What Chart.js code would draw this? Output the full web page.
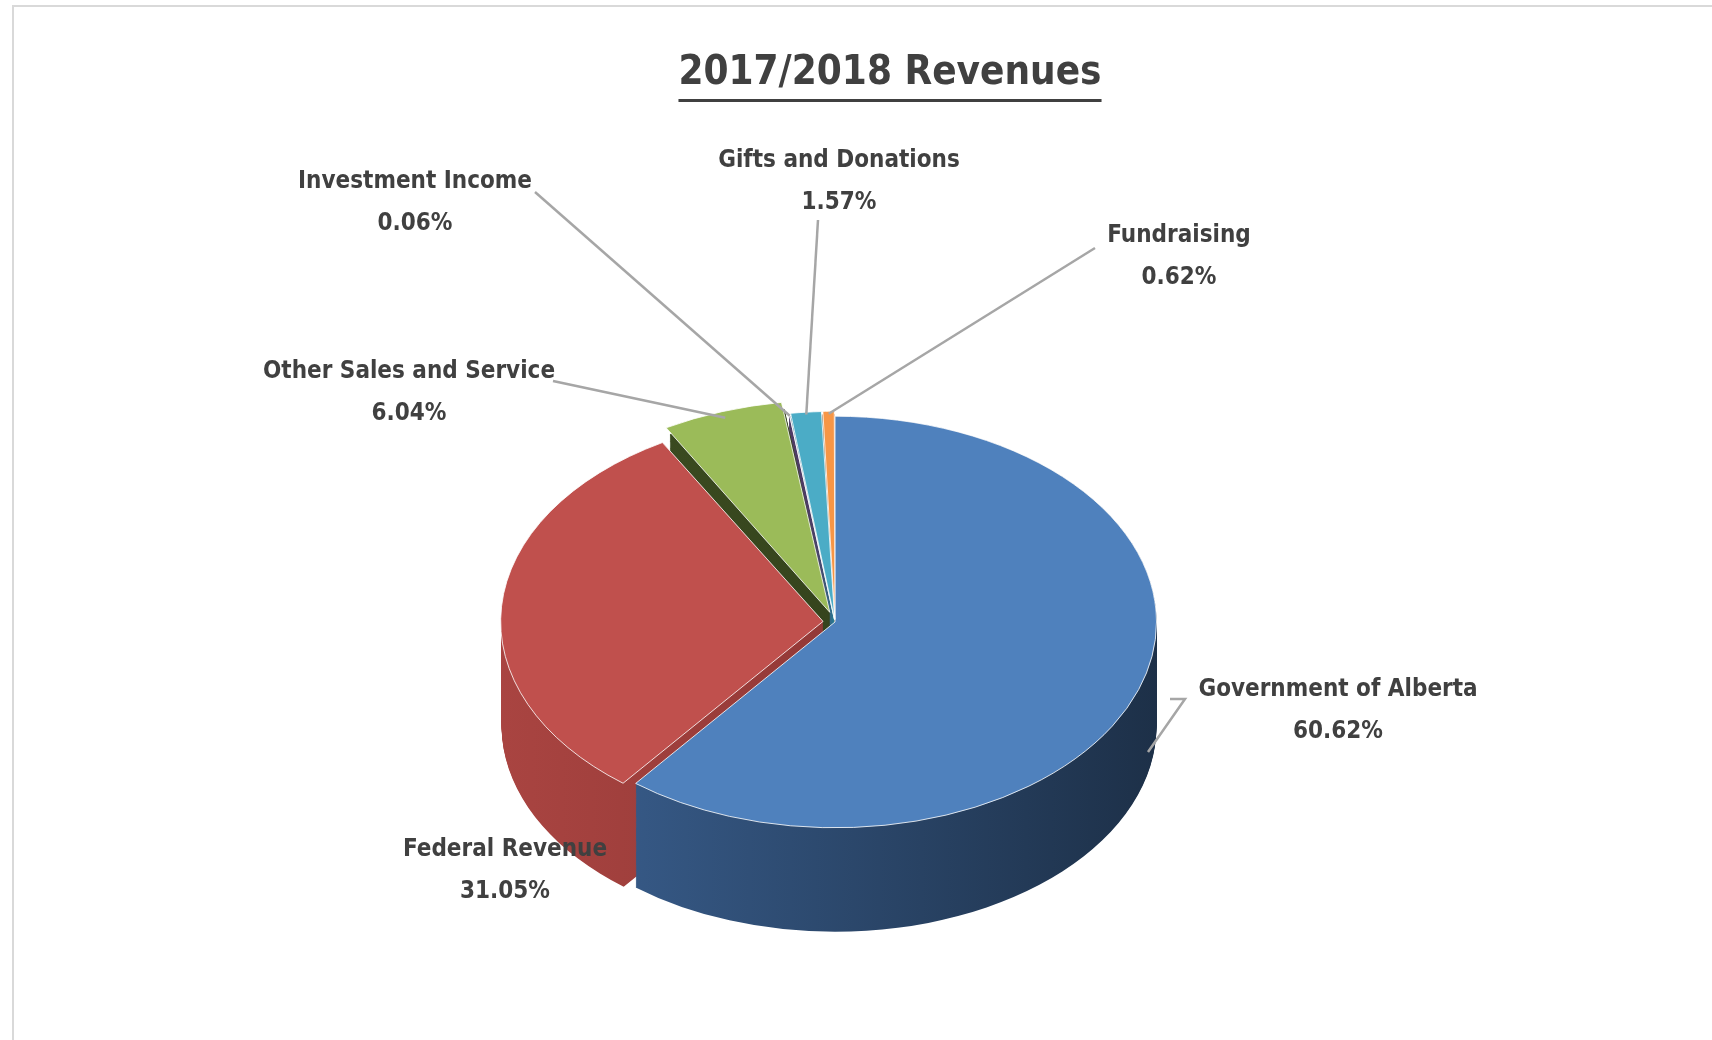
<!DOCTYPE html>
<html>
<head>
<meta charset="utf-8">
<script src="https://cdn.jsdelivr.net/npm/chart.js@4.4.0/dist/chart.umd.min.js"></script>
<style>
  html, body { margin: 0; padding: 0; background: #fff; }
  #wrap { position: absolute; left: 12px; top: 5px; width: 1700px; height: 1035px; border: 2px solid #d9d9d9; border-right: none; border-bottom: none; box-sizing: border-box; }
  canvas { position: absolute; left: 0; top: 0; }
</style>
</head>
<body>
<canvas id="revChart" width="1712" height="1040"></canvas>
<script>
const categories = ['Government of Alberta', 'Federal Revenue', 'Other Sales and Service', 'Investment Income', 'Gifts and Donations', 'Fundraising'];
const shares = [60.62, 31.05, 6.04, 0.06, 1.57, 0.62];
const topColors = ['#4f81bd', '#c0504d', '#9bbb59', '#8064a2', '#4bacc6', '#f79646'];
const sideColors = [['#3b6192', '#1d3048'], ['#a94441', '#7e2e2c'], ['#3e4f22', '#2d3a18'], ['#5a4574', '#3f3052'], ['#2f8ea8', '#1f6a80'], ['#d9782e', '#b05f20']];
// Chart.js v4 draws arcs shifted by offset / 4
const sliceOffsets = [0, 48, 64, 16, 16, 16];

// where each label sits (text centre) and where its leader line starts
const labelLayout = [
    { x: 1338, y: 690, lx: 1185, ly: 699, ax: 1148, ay: 752 },
    { x: 505, y: 850, lx: null },
    { x: 409, y: 372, lx: 553, ly: 381 },
    { x: 415, y: 182, lx: 535, ly: 192 },
    { x: 839, y: 161, lx: 818, ly: 220 },
    { x: 1179, y: 236, lx: 1095, ly: 248 }
];

const SQUASH = 0.64;
const DEPTH = 104;

function arcGeom(arc, i) {
    const p = arc.getProps(['x', 'y', 'startAngle', 'endAngle', 'outerRadius'], true);
    const mid = (p.startAngle + p.endAngle) / 2;
    const off = sliceOffsets[i] / 4;
    return { x: p.x + off * Math.cos(mid), y: p.y + off * Math.sin(mid), s: p.startAngle, e: p.endAngle, r: p.outerRadius, mid };
}

const pie3d = {
    id: 'pie3d',
    beforeDatasetsDraw(chart) {
        const ctx = chart.ctx;
        const ca = chart.chartArea;
        const cy = (ca.top + ca.bottom) / 2;
        ctx.save();
        ctx.translate(0, cy);
        ctx.scale(1, SQUASH);
        ctx.translate(0, -cy);
        const meta = chart.getDatasetMeta(0);
        const d = DEPTH / SQUASH;
        // draw extrusion, back to front
        for (let step = d; step > 0; step -= 1.5) {
            meta.data.forEach((arc, i) => {
                const p = arcGeom(arc, i);
                const g = ctx.createLinearGradient(p.x - p.r, 0, p.x + p.r, 0);
                g.addColorStop(0, sideColors[i][0]);
                g.addColorStop(1, sideColors[i][1]);
                ctx.fillStyle = g;
                ctx.beginPath();
                ctx.moveTo(p.x, p.y + step);
                ctx.arc(p.x, p.y + step, p.r, p.s, p.e);
                ctx.closePath();
                ctx.fill();
            });
        }
    },
    afterDatasetsDraw(chart) {
        const ctx = chart.ctx;
        ctx.restore();
        const ca = chart.chartArea;
        const cy = (ca.top + ca.bottom) / 2;
        const meta = chart.getDatasetMeta(0);

        // title
        ctx.save();
        ctx.fillStyle = '#404040';
        ctx.font = 'bold 40px "DejaVu Sans Condensed"';
        ctx.textAlign = 'center';
        ctx.textBaseline = 'middle';
        const title = '2017/2018 Revenues';
        ctx.fillText(title, 890, 74);
        const tw = ctx.measureText(title).width;
        ctx.fillRect(890 - tw / 2, 99, tw, 3);

        // labels and leader lines
        ctx.font = 'bold 24px "DejaVu Sans Condensed"';
        meta.data.forEach((arc, i) => {
            const p = arcGeom(arc, i);
            const L = labelLayout[i];
            if (L.lx !== null) {
                let ax = p.x + p.r * Math.cos(p.mid);
                let ay = cy + (p.y - cy + p.r * Math.sin(p.mid)) * SQUASH;
                if (L.ax) { ax = L.ax; ay = L.ay; }
                ctx.strokeStyle = '#a6a6a6';
                ctx.lineWidth = 2.5;
                ctx.beginPath();
                ctx.moveTo(L.lx + (i === 0 ? -15 : 0), L.ly);
                ctx.lineTo(L.lx, L.ly);
                ctx.lineTo(ax, ay);
                ctx.stroke();
            }
            ctx.fillStyle = '#404040';
            ctx.fillText(categories[i], L.x, L.y);
            ctx.fillText(shares[i].toFixed(2) + '%', L.x, L.y + 42);
        });
        ctx.restore();
    }
};

new Chart(document.getElementById('revChart'), {
    type: 'pie',
    data: {
        labels: categories,
        datasets: [{
            data: shares,
            backgroundColor: topColors,
            borderColor: '#ffffff',
            borderWidth: 1,
            offset: sliceOffsets
        }]
    },
    options: {
        responsive: false,
        animation: false,
        layout: { padding: { left: 481, right: 523, top: 268, bottom: 64 } },
        plugins: {
            legend: { display: false },
            tooltip: { enabled: false },
            title: { display: false }
        }
    },
    plugins: [pie3d]
});
</script>
<div id="wrap"></div>
</body>
</html>
